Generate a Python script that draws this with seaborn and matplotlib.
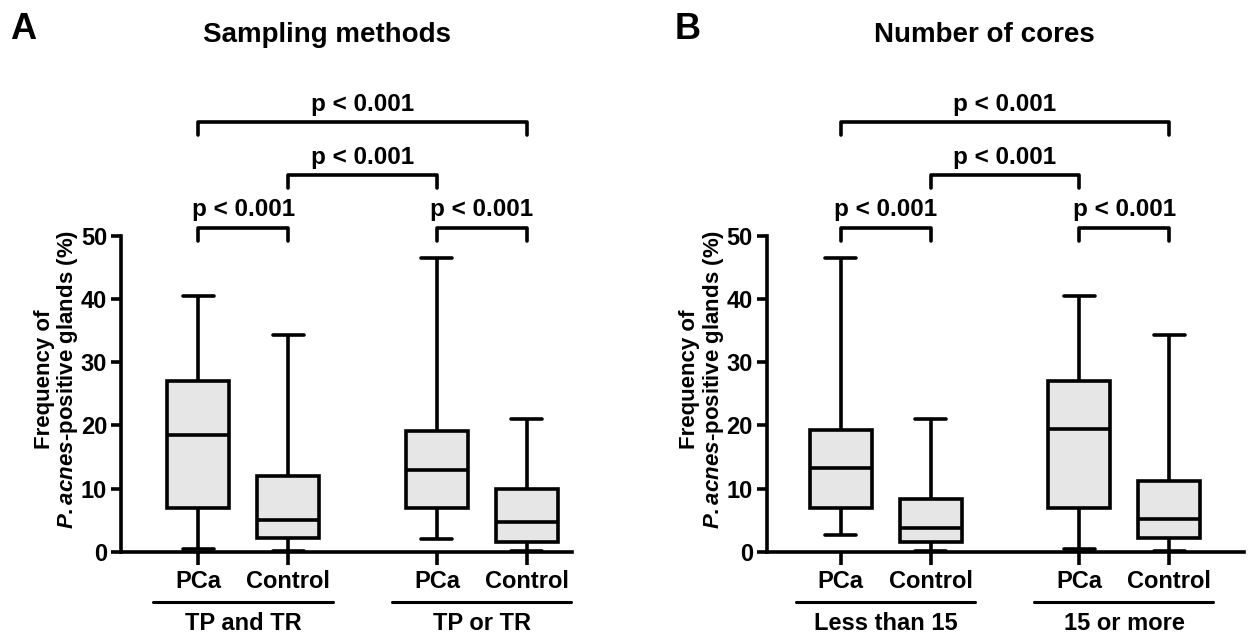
import numpy as np
import pandas as pd
import matplotlib
matplotlib.use("Agg")
import matplotlib.pyplot as plt
import seaborn as sns

sns.set_style("white")
plt.rcParams['font.family'] = ['Liberation Sans', 'DejaVu Sans']
plt.rcParams['font.weight'] = 'bold'
plt.rcParams['text.color'] = 'black'
plt.rcParams['axes.labelcolor'] = 'black'
plt.rcParams['ytick.color'] = 'black'
plt.rcParams['xtick.color'] = 'black'
plt.rcParams['mathtext.fontset'] = 'custom'
plt.rcParams['mathtext.it'] = 'Liberation Sans:italic:bold'
plt.rcParams['mathtext.rm'] = 'Liberation Sans:bold'

# five-number summaries: min, q1, median, q3, max
stats_a = {
    "TP and TR PCa": [0.5, 7.0, 18.5, 27.0, 40.5],
    "TP and TR Control": [0.2, 2.2, 5.0, 12.0, 34.3],
    "TP or TR PCa": [2.0, 7.0, 13.0, 19.2, 46.5],
    "TP or TR Control": [0.2, 1.5, 4.7, 9.9, 21.0],
}
stats_b = {
    "Less than 15 PCa": [2.7, 7.0, 13.2, 19.3, 46.5],
    "Less than 15 Control": [0.2, 1.5, 3.8, 8.4, 21.0],
    "15 or more PCa": [0.5, 7.0, 19.5, 27.0, 40.5],
    "15 or more Control": [0.2, 2.2, 5.2, 11.2, 34.3],
}
box_labels = ["PCa", "Control", "PCa", "Control"]
groups_a = ["TP and TR", "TP or TR"]
groups_b = ["Less than 15", "15 or more"]
titles = ["Sampling methods", "Number of cores"]
letters = ["A", "B"]
positions = [0, 1, 2.65, 3.65]
# brackets: (x1, x2, y)
brackets = [(0, 1, 51.3), (2.65, 3.65, 51.3), (1, 2.65, 59.6), (0, 3.65, 68.0)]
p_text = "p < 0.001"

fig = plt.figure(figsize=(12.49, 6.38), dpi=100)
axes_rects = [[0.0969, 0.135, 0.361, 0.732], [0.614, 0.135, 0.382, 0.732]]
xlims = [(-0.86, 4.15), (-0.82, 4.48)]
label_x = [-0.09, -0.085]
title_x = [0.262, 0.788]
letter_x = [0.008, 0.54]

for k, (stats, groups) in enumerate([(stats_a, groups_a), (stats_b, groups_b)]):
    ax = fig.add_axes(axes_rects[k])
    rows = []
    for pos, vals in zip(positions, stats.values()):
        for v in vals:
            rows.append({"x": pos, "y": v})
    df = pd.DataFrame(rows)
    sns.boxplot(data=df, x="x", y="y", native_scale=True, whis=np.inf, width=0.69,
                color="#e6e6e6", linecolor="black", linewidth=2.6, ax=ax)
    ax.set_xlim(*xlims[k])
    ax.set_ylim(0, 73.9)
    ax.set_yticks([0, 10, 20, 30, 40, 50])
    ax.set_xticks(positions)
    ax.set_xticklabels([])
    ax.set_xlabel("")
    for s in ["top", "right"]:
        ax.spines[s].set_visible(False)
    ax.spines["left"].set_bounds(0, 50)
    for s in ["left", "bottom"]:
        ax.spines[s].set_linewidth(2.6)
        ax.spines[s].set_color("black")
    ax.tick_params(axis="y", length=7, width=2.6, labelsize=17, left=True, pad=3)
    ax.tick_params(axis="x", length=9, width=2.6, bottom=True, direction="out")
    ax.set_ylabel("Frequency of\n$\\it{P. acnes}$-positive glands (%)", fontsize=16,
                  fontweight="bold", linespacing=1.05)
    ax.yaxis.set_label_coords(label_x[k], 0.37)
    for x1, x2, y in brackets:
        ax.plot([x1, x1, x2, x2], [y - 2.1, y, y, y - 2.1], color="black", lw=2.6,
                clip_on=False)
        ax.text((x1 + x2) / 2, y + 1.0, p_text, ha="center", va="bottom", fontsize=17.5,
                fontweight="bold")
    for pos, lab in zip(positions, box_labels):
        ax.text(pos, -4.7, lab, ha="center", va="center", fontsize=17, fontweight="bold",
                clip_on=False)
    for g, (a, b) in enumerate([(0, 1), (2.65, 3.65)]):
        ax.plot([a - 0.5, b + 0.49], [-7.9, -7.9], color="black", lw=2.2, clip_on=False)
        ax.text((a + b) / 2, -11.4, groups[g], ha="center", va="center", fontsize=17,
                fontweight="bold", clip_on=False)
    fig.text(title_x[k], 0.945, titles[k], ha="center", va="center", fontsize=20,
             fontweight="bold")
    fig.text(letter_x[k], 0.953, letters[k], ha="left", va="center", fontsize=26,
             fontweight="bold")

fig.savefig("out.png", dpi=100)
